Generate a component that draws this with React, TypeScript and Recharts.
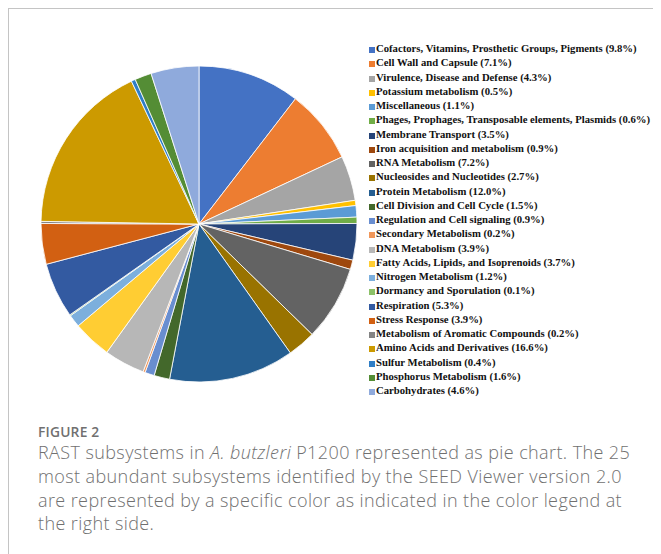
import React from "react";
import { PieChart, Pie, Cell } from "recharts";

const categories = [
  "Cofactors, Vitamins, Prosthetic Groups, Pigments",
  "Cell Wall and Capsule",
  "Virulence, Disease and Defense",
  "Potassium metabolism",
  "Miscellaneous",
  "Phages, Prophages, Transposable elements, Plasmids",
  "Membrane Transport",
  "Iron acquisition and metabolism",
  "RNA Metabolism",
  "Nucleosides and Nucleotides",
  "Protein Metabolism",
  "Cell Division and Cell Cycle",
  "Regulation and Cell signaling",
  "Secondary Metabolism",
  "DNA Metabolism",
  "Fatty Acids, Lipids, and Isoprenoids",
  "Nitrogen Metabolism",
  "Dormancy and Sporulation",
  "Respiration",
  "Stress Response",
  "Metabolism of Aromatic Compounds",
  "Amino Acids and Derivatives",
  "Sulfur Metabolism",
  "Phosphorus Metabolism",
  "Carbohydrates",
];

const percents = [
  9.8, 7.1, 4.3, 0.5, 1.1, 0.6, 3.5, 0.9, 7.2, 2.7, 12.0, 1.5, 0.9, 0.2, 3.9,
  3.7, 1.2, 0.1, 5.3, 3.9, 0.2, 16.6, 0.4, 1.6, 4.6,
];

const colors = [
  "#4472C4", "#ED7D31", "#A5A5A5", "#FFC000", "#5B9BD5", "#70AD47",
  "#264478", "#9E480E", "#636363", "#997300", "#255E91", "#43682B",
  "#698ED0", "#F1975A", "#B7B7B7", "#FFCD33", "#7CAFDD", "#8CC168",
  "#335AA1", "#D26012", "#848484", "#CC9A00", "#2F7EC6", "#548D35",
  "#8FAADC",
];

const captionLines = [
  [{ t: "RAST subsystems in " }, { t: "A. butzleri", i: true }, { t: " P1200 represented as pie chart. The 25" }],
  [{ t: "most abundant subsystems identified by the SEED Viewer version 2.0" }],
  [{ t: "are represented by a specific color as indicated in the color legend at" }],
  [{ t: "the right side." }],
];

const data = categories.map((name, i) => ({ name, value: percents[i] }));

export default function App() {
  return (
    <div style={{ position: "relative", width: 653, height: 546, borderTop: "1px solid #c4c4c4", borderLeft: "1px solid #c4c4c4", boxSizing: "border-box", background: "#fff" }}>
      <div style={{ position: "absolute", left: -1, top: -1 }}>
        <PieChart width={400} height={400} margin={{ top: 0, right: 0, bottom: 0, left: 0 }}>
          <Pie
            data={data}
            dataKey="value"
            nameKey="name"
            cx={191}
            cy={216}
            outerRadius={158}
            startAngle={90}
            endAngle={-270}
            stroke="#ffffff"
            strokeWidth={0.8}
            isAnimationActive={false}
          >
            {data.map((d, i) => (
              <Cell key={d.name} fill={colors[i]} />
            ))}
          </Pie>
        </PieChart>
      </div>
      <div style={{ position: "absolute", left: 360, top: 32, fontFamily: "'Liberation Serif', 'Times New Roman', serif", fontWeight: 700, fontSize: 10.7, color: "#111" }}>
        {categories.map((c, i) => (
          <div key={c} style={{ height: 14.25, lineHeight: "14.25px", display: "flex", alignItems: "center", whiteSpace: "nowrap" }}>
            <span style={{ display: "inline-block", width: 6, height: 6, background: colors[i], marginRight: 1, marginTop: 4 }} />
            <span>{c} ({percents[i].toFixed(1)}%)</span>
          </div>
        ))}
      </div>
      <div style={{ position: "absolute", left: 29, top: 414, fontFamily: "'Open Sans', sans-serif", color: "#707070" }}>
        <div style={{ fontSize: 13.8, fontWeight: 600, letterSpacing: 0.2, lineHeight: "17px" }}>FIGURE 2</div>
        <div style={{ fontSize: 18, fontWeight: 300, letterSpacing: 0.4, lineHeight: "23.8px", marginTop: 1 }}>
          {captionLines.map((line, li) => (
            <div key={li} style={{ whiteSpace: "nowrap" }}>
              {line.map((seg, si) => (
                <span key={si} style={{ fontStyle: seg.i ? "italic" : "normal" }}>{seg.t}</span>
              ))}
            </div>
          ))}
        </div>
      </div>
    </div>
  );
}
